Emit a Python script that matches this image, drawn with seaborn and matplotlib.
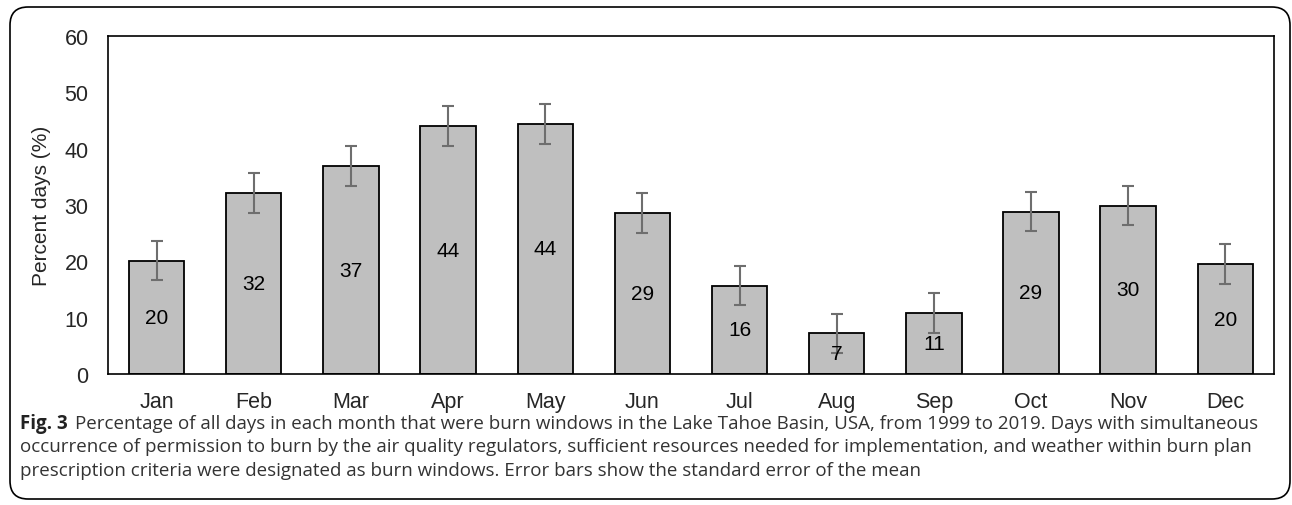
import numpy as np
import pandas as pd
import seaborn as sns
import matplotlib.pyplot as plt
from matplotlib.patches import FancyBboxPatch

# Data
months = ['Jan', 'Feb', 'Mar', 'Apr', 'May', 'Jun', 'Jul', 'Aug', 'Sep', 'Oct', 'Nov', 'Dec']
percent = [20.1, 32.1, 36.9, 44.0, 44.4, 28.6, 15.7, 7.2, 10.8, 28.8, 29.9, 19.5]
se = [3.5, 3.5, 3.5, 3.5, 3.5, 3.5, 3.5, 3.5, 3.5, 3.5, 3.5, 3.5]
bar_labels = ['20', '32', '37', '44', '44', '29', '16', '7', '11', '29', '30', '20']

caption_lines = [
    'Percentage of all days in each month that were burn windows in the Lake Tahoe Basin, USA, from 1999 to 2019. Days with simultaneous',
    'occurrence of permission to burn by the air quality regulators, sufficient resources needed for implementation, and weather within burn plan',
    'prescription criteria were designated as burn windows. Error bars show the standard error of the mean',
]

df = pd.DataFrame({'month': months, 'percent': percent, 'se': se})

sns.set_style('white')
plt.rcParams['font.family'] = ['Liberation Sans', 'DejaVu Sans']

fig = plt.figure(figsize=(12.92, 5.06), dpi=100)
ax = fig.add_axes([0.0836, 0.2589, 0.9024, 0.668])

sns.barplot(data=df, x='month', y='percent', color='#bfbfbf', width=0.57,
            edgecolor='black', linewidth=1.3, saturation=1, errorbar=None, ax=ax)
ax.errorbar(np.arange(len(months)), df['percent'], yerr=df['se'], fmt='none',
            ecolor='#6e6e6e', elinewidth=1.5, capsize=4.5, capthick=1.5)

for i, (v, lab) in enumerate(zip(percent, bar_labels)):
    ax.text(i, v / 2, lab, ha='center', va='center', fontsize=15, color='black')

ax.set_ylim(0, 60)
ax.set_yticks(range(0, 61, 10))
ax.set_xlim(-0.5, len(months) - 0.5)
ax.set_xlabel('')
ax.set_ylabel('Percent days (%)', fontsize=15, labelpad=10)
ax.tick_params(axis='y', length=0, pad=14, labelsize=15.5)
ax.tick_params(axis='x', length=0, pad=12, labelsize=15.5)
for s in ax.spines.values():
    s.set_color('black')
    s.set_linewidth(1.2)

# caption
cap_font = ['Open Sans', 'DejaVu Sans']
cap_size = 13.5
y0 = 1 - 424 / 506
fig.text(20 / 1292, y0, 'Fig. 3', fontsize=cap_size, fontweight='bold', family=cap_font,
         va='center', color='#222222')
fig.text(75 / 1292, y0, caption_lines[0], fontsize=cap_size, family=cap_font,
         va='center', color='#333333')
fig.text(20 / 1292, y0 - 23.5 / 506, caption_lines[1], fontsize=cap_size, family=cap_font,
         va='center', color='#333333')
fig.text(20 / 1292, y0 - 47 / 506, caption_lines[2], fontsize=cap_size, family=cap_font,
         va='center', color='#333333')

# rounded frame
box = FancyBboxPatch((10 / 1292, 6 / 506), 1280 / 1292, 492 / 506,
                     boxstyle='round,pad=0,rounding_size=0.014',
                     transform=fig.transFigure, fill=False,
                     edgecolor='black', linewidth=1.2, mutation_aspect=1292 / 506)
fig.patches.append(box)

plt.savefig('out.png', dpi=100)
plt.close()
